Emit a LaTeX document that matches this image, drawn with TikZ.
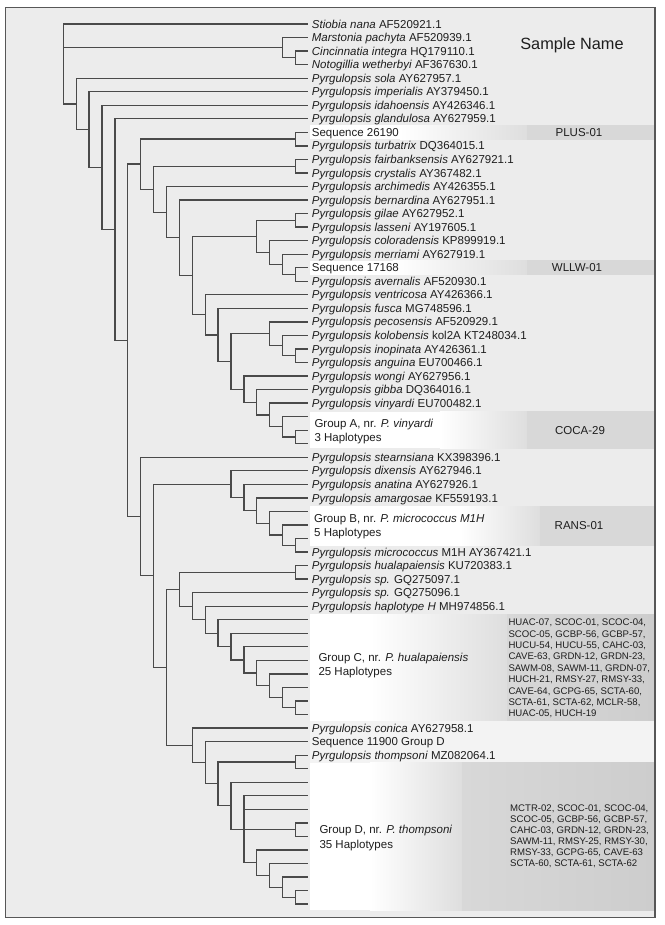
\documentclass[tikz,border=0pt]{standalone}
\usepackage{fontspec}
\setmainfont{Liberation Sans}
\usetikzlibrary{calc}
\definecolor{bg}{HTML}{ECECEC}
\definecolor{ln}{HTML}{4A4A4A}
\definecolor{fr}{HTML}{575757}
\definecolor{lite}{HTML}{F3F3F3}
\definecolor{gA}{HTML}{DEDEDE}
\definecolor{gB}{HTML}{D8D8D8}
\definecolor{gC}{HTML}{CDCDCD}
\definecolor{tx}{HTML}{1E1E1E}
\newcommand\inode[4]{\path let \p1=(#3), \p2=(#4) in coordinate (#1) at ({63.3pt+12.9pt*#2},{(\y1+\y2)/2});}
\newcommand\band[7]{%
  \fill[white] (310,#1) rectangle (#3,#2);
  \shade[left color=white,right color=#5] (#3,#1) rectangle (#4,#2);
  \shade[left color=#6,right color=#7] (#4,#1) rectangle (654.3,#2);}
\begin{document}
\begin{tikzpicture}[x=1pt,y=-1pt,
  br/.style={draw=ln,line width=1.3pt},
  lab/.style={anchor=base west,inner sep=0pt,text=tx,font=\fontsize{11.5pt}{13pt}\selectfont},
  rlab/.style={anchor=base,inner sep=0pt,text=tx,font=\fontsize{11.5pt}{13pt}\selectfont},
  lst/.style={anchor=base west,inner sep=0pt,text=tx,font=\fontsize{9.6pt}{11pt}\selectfont}]
\useasboundingbox (0,0) rectangle (664,925);
\fill[white] (0,0) rectangle (664,925);
\fill[bg] (5.7,7.3) rectangle (655,917.7);
% bands
\band{125.5}{139.2}{400}{527}{gA}{gB}{gB}
\band{260.9}{274.5}{393}{527}{gA}{gB}{gB}
\band{411.7}{448.3}{440}{527}{gA}{gB}{gB}
\band{506}{545.5}{460}{540}{gA}{gB}{gB}
\band{614}{720.7}{370}{507}{gA}{gB}{gC}
\fill[lite] (310,720.7) rectangle (654.3,762.7);
\band{762.7}{910}{370}{462}{gA}{gB}{gC}
% leaves
\foreach \i in {0,...,65} {\coordinate (l\i) at (308.3,{24+13.54*\i});}
% internal nodes
\inode{nA}{18}{l2}{l3}
\inode{nB}{17}{l1}{nA}
\inode{c8}{18}{l8}{l9}
\inode{c10}{18}{l10}{l11}
\inode{c14}{18}{l14}{l15}
\inode{c18}{18}{l18}{l19}
\inode{c24}{18}{l24}{l25}
\inode{c30}{18}{l30}{l31}
\inode{n17a}{17}{l17}{c18}
\inode{n16a}{16}{l16}{n17a}
\inode{n15a}{15}{c14}{n16a}
\inode{n17b}{17}{l23}{c24}
\inode{n16b}{16}{l22}{n17b}
\inode{n17}{17}{l29}{c30}
\inode{n16}{16}{l28}{n17}
\inode{n15}{15}{l27}{n16}
\inode{n14}{14}{l26}{n15}
\inode{n13}{13}{n16b}{n14}
\inode{n12}{12}{l21}{n13}
\inode{n11}{11}{l20}{n12}
\inode{n10}{10}{n15a}{n11}
\inode{n9}{9}{l13}{n10}
\inode{n8}{8}{l12}{n9}
\inode{n7}{7}{c10}{n8}
\inode{n6}{6}{c8}{n7}
\inode{m18}{18}{l38}{l39}
\inode{m17}{17}{l37}{m18}
\inode{m16}{16}{l36}{m17}
\inode{m15}{15}{l35}{m16}
\inode{m14}{14}{l34}{m15}
\inode{m13}{13}{l33}{m14}
\inode{c40}{18}{l40}{l41}
\inode{c50}{18}{l50}{l51}
\inode{mm17}{17}{l49}{c50}
\inode{mm16}{16}{l48}{mm17}
\inode{mm15}{15}{l47}{mm16}
\inode{mm14}{14}{l46}{mm15}
\inode{mm13}{13}{l45}{mm14}
\inode{m12}{12}{l44}{mm13}
\inode{m11}{11}{l43}{m12}
\inode{m10}{10}{l42}{m11}
\inode{m9}{9}{c40}{m10}
\inode{c64}{18}{l64}{l65}
\inode{k17}{17}{l63}{c64}
\inode{k16}{16}{l62}{k17}
\inode{k15}{15}{l61}{k16}
\inode{c59}{18}{l59}{l60}
\inode{k14}{14}{l57}{k15}
\inode{k13}{13}{l56}{k14}
\inode{c54}{18}{l54}{l55}
\inode{k12}{12}{c54}{k13}
\inode{k11}{11}{l53}{k12}
\inode{k10}{10}{l52}{k11}
\inode{m8}{8}{m9}{k10}
\inode{m7}{7}{m13}{m8}
\inode{m6}{6}{l32}{m7}
\inode{n5}{5}{n6}{m6}
\inode{n4}{4}{l7}{n5}
\inode{n3}{3}{l6}{n4}
\inode{n2}{2}{l5}{n3}
\inode{n1}{1}{l4}{n2}
\inode{root}{0}{l0}{n1}
% branches
\foreach \p/\c in {root/l0,root/nB,root/n1,nB/l1,nB/nA,nA/l2,nA/l3,
 n1/l4,n1/n2,n2/l5,n2/n3,n3/l6,n3/n4,n4/l7,n4/n5,n5/n6,n5/m6,
 n6/c8,n6/n7,c8/l8,c8/l9,n7/c10,n7/n8,c10/l10,c10/l11,n8/l12,n8/n9,n9/l13,n9/n10,
 n10/n15a,n10/n11,n15a/c14,n15a/n16a,c14/l14,c14/l15,n16a/l16,n16a/n17a,n17a/l17,n17a/c18,c18/l18,c18/l19,
 n11/l20,n11/n12,n12/l21,n12/n13,n13/n16b,n13/n14,n16b/l22,n16b/n17b,n17b/l23,n17b/c24,c24/l24,c24/l25,
 n14/l26,n14/n15,n15/l27,n15/n16,n16/l28,n16/n17,n17/l29,n17/c30,c30/l30,c30/l31,
 m6/l32,m6/m7,m7/m13,m7/m8,m13/l33,m13/m14,m14/l34,m14/m15,m15/l35,m15/m16,m16/l36,m16/m17,m17/l37,m17/m18,m18/l38,m18/l39,
 m8/m9,m8/k10,m9/c40,m9/m10,c40/l40,c40/l41,m10/l42,m10/m11,m11/l43,m11/m12,m12/l44,m12/mm13,mm13/l45,mm13/mm14,mm14/l46,mm14/mm15,mm15/l47,mm15/mm16,mm16/l48,mm16/mm17,mm17/l49,mm17/c50,c50/l50,c50/l51,
 k10/l52,k10/k11,k11/l53,k11/k12,k12/c54,k12/k13,c54/l54,c54/l55,k13/l56,k13/k14,k14/l57,k14/l58,k14/c59,k14/k15,c59/l59,c59/l60,k15/l61,k15/k16,k16/l62,k16/k17,k17/l63,k17/c64,c64/l64,c64/l65}
 {\draw[br] (\p) |- (\c);}
% leaf labels
\foreach \i/\lbl in {0/{\textit{Stiobia nana} AF520921.1},
 1/{\textit{Marstonia pachyta} AF520939.1},
 2/{\textit{Cincinnatia integra} HQ179110.1},
 3/{\textit{Notogillia wetherbyi} AF367630.1},
 4/{\textit{Pyrgulopsis sola} AY627957.1},
 5/{\textit{Pyrgulopsis imperialis} AY379450.1},
 6/{\textit{Pyrgulopsis idahoensis} AY426346.1},
 7/{\textit{Pyrgulopsis glandulosa} AY627959.1},
 8/{Sequence 26190},
 9/{\textit{Pyrgulopsis turbatrix} DQ364015.1},
 10/{\textit{Pyrgulopsis fairbanksensis} AY627921.1},
 11/{\textit{Pyrgulopsis crystalis} AY367482.1},
 12/{\textit{Pyrgulopsis archimedis} AY426355.1},
 13/{\textit{Pyrgulopsis bernardina} AY627951.1},
 14/{\textit{Pyrgulopsis gilae} AY627952.1},
 15/{\textit{Pyrgulopsis lasseni} AY197605.1},
 16/{\textit{Pyrgulopsis coloradensis} KP899919.1},
 17/{\textit{Pyrgulopsis merriami} AY627919.1},
 18/{Sequence 17168},
 19/{\textit{Pyrgulopsis avernalis} AF520930.1},
 20/{\textit{Pyrgulopsis ventricosa} AY426366.1},
 21/{\textit{Pyrgulopsis fusca} MG748596.1},
 22/{\textit{Pyrgulopsis pecosensis} AF520929.1},
 23/{\textit{Pyrgulopsis kolobensis} kol2A KT248034.1},
 24/{\textit{Pyrgulopsis inopinata} AY426361.1},
 25/{\textit{Pyrgulopsis anguina} EU700466.1},
 26/{\textit{Pyrgulopsis wongi} AY627956.1},
 27/{\textit{Pyrgulopsis gibba} DQ364016.1},
 28/{\textit{Pyrgulopsis vinyardi} EU700482.1},
 32/{\textit{Pyrgulopsis stearnsiana} KX398396.1},
 33/{\textit{Pyrgulopsis dixensis} AY627946.1},
 34/{\textit{Pyrgulopsis anatina} AY627926.1},
 35/{\textit{Pyrgulopsis amargosae} KF559193.1},
 39/{\textit{Pyrgulopsis micrococcus} M1H AY367421.1},
 40/{\textit{Pyrgulopsis hualapaiensis} KU720383.1},
 41/{\textit{Pyrgulopsis sp.} GQ275097.1},
 42/{\textit{Pyrgulopsis sp.} GQ275096.1},
 43/{\textit{Pyrgulopsis haplotype H} MH974856.1},
 52/{\textit{Pyrgulopsis conica} AY627958.1},
 53/{Sequence 11900 Group D},
 54/{\textit{Pyrgulopsis thompsoni} MZ082064.1}}
 {\node[lab] (t\i) at ([xshift=3.4pt,yshift=-4.1pt]l\i) {\lbl};}
% group labels
\node[lab] (gA1) at (314.3,427.4) {Group A, nr. \textit{P. vinyardi}};
\node[lab] (gA2) at (314.3,441.4) {3 Haplotypes};
\node[lab] (gB1) at (314,522.4) {Group B, nr. \textit{P. micrococcus M1H}};
\node[lab] (gB2) at (314,536.4) {5 Haplotypes};
\node[lab] (gC1) at (318.3,661.8) {Group C, nr. \textit{P. hualapaiensis}};
\node[lab] (gC2) at (318.3,675.1) {25 Haplotypes};
\node[lab] (gD1) at (319.3,833.4) {Group D, nr. \textit{P. thompsoni}};
\node[lab] (gD2) at (319.3,848.1) {35 Haplotypes};
% sample names
\node[anchor=base,inner sep=0pt,text=tx,font=\fontsize{16.3pt}{18pt}\selectfont] (hdr) at (572,49.2) {Sample Name};
\node[rlab] (s1) at (579,136.4) {PLUS-01};
\node[rlab] (s2) at (577,271.8) {WLLW-01};
\node[rlab] (s3) at (580,434.1) {COCA-29};
\node[rlab] (s4) at (579,529.1) {RANS-01};
\foreach \s [count=\k from 0] in {{HUAC-07, SCOC-01, SCOC-04,},{SCOC-05, GCBP-56, GCBP-57,},{HUCU-54, HUCU-55, CAHC-03,},{CAVE-63, GRDN-12, GRDN-23,},{SAWM-08, SAWM-11, GRDN-07,},{HUCH-21, RMSY-27, RMSY-33,},{CAVE-64, GCPG-65, SCTA-60,},{SCTA-61, SCTA-62, MCLR-58,},{HUAC-05, HUCH-19}}
 {\node[lst] (lc\k) at (508.3,{625.7+11.4*\k}) {\s};}
\foreach \s [count=\k from 0] in {{MCTR-02, SCOC-01, SCOC-04,},{SCOC-05, GCBP-56, GCBP-57,},{CAHC-03, GRDN-12, GRDN-23,},{SAWM-11, RMSY-25, RMSY-30,},{RMSY-33, GCPG-65, CAVE-63},{SCTA-60, SCTA-61, SCTA-62}}
 {\node[lst] (ld\k) at (510,{811.1+11.15*\k}) {\s};}
% frame
\draw[fr,line width=1.4pt] (5.7,7.3) rectangle (655,917.7);
\end{tikzpicture}
\end{document}
